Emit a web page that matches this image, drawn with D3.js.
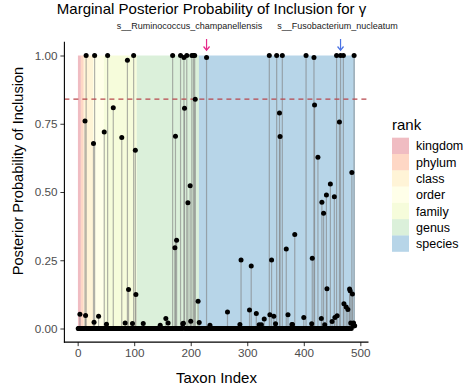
<!DOCTYPE html>
<html>
<head>
<meta charset="utf-8">
<script src="https://cdn.jsdelivr.net/npm/d3@7"></script>
<style>
  html, body { margin: 0; padding: 0; background: #ffffff; }
  svg { display: block; font-family: "Liberation Sans", Arial, Helvetica, sans-serif; }
</style>
</head>
<body>
<svg id="chart" width="466" height="392"></svg>
<script>
// Taxa with a non-negligible marginal posterior probability of inclusion
// (every other taxon index sits at 0).
const taxonCount = 490;
const taxonIndex = [
  4, 13, 14, 15, 28, 29, 30, 37, 47, 51, 53, 63, 78, 84, 88, 90, 97, 99, 102, 103,
  116, 146, 156, 160, 168, 172, 173, 175, 182, 186, 187, 188, 189, 193, 195, 199, 200, 202, 205, 207,
  208, 213, 215, 228, 234, 265, 287, 289, 304, 307, 316, 321, 325, 330, 339, 340, 343, 347, 350, 352,
  357, 358, 362, 369, 372, 379, 380, 384, 400, 404, 414, 415, 418, 419, 425, 431, 432, 435, 437, 440,
  441, 447, 450, 454, 455, 458, 459, 463, 465, 470, 471, 475, 478, 481, 482, 483, 485, 486, 487, 488,
  489, 490
];
const inclusionProb = [
  0.052, 0.76, 0.048, 1.0, 0.678, 0.023, 1.0, 0.045, 0.72, 0.016, 1.0, 0.809, 0.70, 0.02, 0.983, 0.143, 0.018, 1.0, 0.653, 0.125,
  0.018, 0.012, 0.037, 0.02, 1.0, 0.296, 0.704, 0.323, 1.0, 0.017, 0.019, 0.993, 0.807, 1.0, 0.461, 0.523, 0.027, 1.0, 1.0, 1.0,
  0.84, 0.10, 0.022, 0.993, 0.012, 0.06, 0.015, 0.251, 0.068, 0.229, 0.055, 0.014, 0.014, 0.035, 1.0, 0.05, 0.251, 0.045, 0.017, 1.0,
  0.789, 0.703, 1.0, 0.291, 0.05, 0.015, 0.015, 0.344, 0.04, 1.0, 0.017, 0.257, 0.993, 0.819, 0.627, 0.037, 0.462, 0.422, 0.014, 0.489,
  0.146, 0.529, 0.026, 0.483, 0.04, 1.0, 0.047, 0.756, 1.0, 1.0, 0.091, 0.079, 0.07, 0.145, 0.138, 0.02, 0.571, 0.126, 0.015, 0.02,
  1.0, 0.01
];

// Taxonomic rank blocks along the taxon index
const rankNames  = ["kingdom", "phylum", "class", "order", "family", "genus", "species"];
const rankStart  = [1, 6, 11, 28, 47, 105, 215];
const rankEnd    = [5, 10, 27, 46, 104, 214, 490];
const rankColors = ["#d53e4f", "#fc8d59", "#fee08b", "#ffffbf", "#e6f598", "#99d594", "#3288bd"];

// Inclusion threshold
const threshold = 0.84;

// Highlighted taxa
const highlightIndex = [228, 465];
const highlightLabel = ["s__Ruminococcus_champanellensis", "s__Fusobacterium_nucleatum"];
const highlightColor = ["#e7298a", "#4a72e4"];

const xTicks = [0, 100, 200, 300, 400, 500];
const yTicks = [0, 0.25, 0.5, 0.75, 1];

// ---- build the full per-taxon table ----
const probByIndex = new Map(taxonIndex.map((t, i) => [t, inclusionProb[i]]));
const taxa = d3.range(1, taxonCount + 1).map(t => ({ index: t, prob: probByIndex.get(t) || 0 }));
const ranks = rankNames.map((r, i) => ({ rank: r, start: rankStart[i], end: rankEnd[i], color: rankColors[i] }));

const svg = d3.select("#chart");

const panel = { left: 64.4, right: 368.5, top: 41.85, bottom: 342.15 };
const x = d3.scaleLinear().domain([-23.45, 514.45]).range([panel.left, panel.right]);
const y = d3.scaleLinear().domain([-0.05, 1.05]).range([panel.bottom, panel.top]);
const fill = d3.scaleOrdinal().domain(rankNames).range(rankColors);
const bandAlpha = 0.35;

// rank background bands
svg.append("g").selectAll("rect").data(ranks).join("rect")
  .attr("x", d => x(d.start - 0.5))
  .attr("width", d => x(d.end + 0.5) - x(d.start - 0.5))
  .attr("y", y(1))
  .attr("height", y(0) - y(1))
  .attr("fill", d => fill(d.rank))
  .attr("fill-opacity", bandAlpha);

// stems
svg.append("g").selectAll("line").data(taxa.filter(d => d.prob > 0)).join("line")
  .attr("x1", d => x(d.index)).attr("x2", d => x(d.index))
  .attr("y1", y(0)).attr("y2", d => y(d.prob))
  .attr("stroke", "#7f7f7f")
  .attr("stroke-opacity", 0.6)
  .attr("stroke-width", 1.2);

// threshold line
svg.append("line")
  .attr("x1", panel.left).attr("x2", panel.right)
  .attr("y1", y(threshold)).attr("y2", y(threshold))
  .attr("stroke", "#b8474c")
  .attr("stroke-width", 1.3)
  .attr("stroke-dasharray", "5,4");

// points
svg.append("g").selectAll("circle").data(taxa).join("circle")
  .attr("cx", d => x(d.index))
  .attr("cy", d => y(d.prob))
  .attr("r", 2.5)
  .attr("fill", "#000");

// axes
const xAxis = svg.append("g")
  .attr("transform", `translate(0,${panel.bottom})`)
  .call(d3.axisBottom(x).tickValues(xTicks).tickSize(4).tickPadding(3).tickFormat(d3.format("d")));
const yAxis = svg.append("g")
  .attr("transform", `translate(${panel.left},0)`)
  .call(d3.axisLeft(y).tickValues(yTicks).tickSize(4).tickPadding(3).tickFormat(d3.format(".2f")));
[xAxis, yAxis].forEach(g => {
  g.select(".domain").remove();
  g.selectAll(".tick line").attr("stroke", "#333").attr("stroke-width", 1);
  g.selectAll(".tick text").attr("fill", "#4d4d4d").style("font-size", "11.7px")
    .style("font-family", "'Liberation Sans', Arial, sans-serif");
});
svg.append("line").attr("x1", panel.left).attr("x2", panel.left)
  .attr("y1", panel.top).attr("y2", panel.bottom + 0.5).attr("stroke", "#000").attr("stroke-width", 1.1);
svg.append("line").attr("x1", panel.left - 0.5).attr("x2", panel.right)
  .attr("y1", panel.bottom).attr("y2", panel.bottom).attr("stroke", "#000").attr("stroke-width", 1.1);

// axis titles
svg.append("text")
  .attr("x", (panel.left + panel.right) / 2).attr("y", 382.5)
  .attr("text-anchor", "middle").style("font-size", "15px").attr("fill", "#000")
  .text("Taxon Index");
svg.append("text")
  .attr("transform", `translate(23,171) rotate(-90)`)
  .attr("text-anchor", "middle").style("font-size", "14.6px").attr("fill", "#000")
  .text("Posterior Probability of Inclusion");

// title
svg.append("text")
  .attr("x", 211.5).attr("y", 13.5)
  .attr("text-anchor", "middle").style("font-size", "15px").attr("fill", "#000")
  .text("Marginal Posterior Probability of Inclusion for γ");

// highlighted taxa: arrow + label
const labelNudge = [-17, -3];
highlightIndex.forEach((t, i) => {
  const ax = x(t);
  const g = svg.append("g");
  g.append("line").attr("x1", ax).attr("x2", ax).attr("y1", 39).attr("y2", 50)
    .attr("stroke", highlightColor[i]).attr("stroke-width", 1.2);
  g.append("path")
    .attr("d", `M${ax - 3},${46.5} L${ax},${50.2} L${ax + 3},${46.5}`)
    .attr("fill", "none").attr("stroke", highlightColor[i]).attr("stroke-width", 1.2);
  g.append("text")
    .attr("x", ax + labelNudge[i]).attr("y", 29)
    .attr("text-anchor", "middle").style("font-size", "9px").attr("fill", "#1a1a1a")
    .text(highlightLabel[i]);
});

// legend
const legend = svg.append("g").attr("transform", "translate(392,0)");
legend.append("text").attr("x", 0).attr("y", 129.5)
  .style("font-size", "15px").attr("fill", "#000").text("rank");
const keyH = 16.3, keyTop = 137.7;
const items = legend.selectAll("g.key").data(rankNames).join("g").attr("class", "key")
  .attr("transform", (d, i) => `translate(0,${keyTop + i * keyH})`);
items.append("rect").attr("width", 17).attr("height", keyH)
  .attr("fill", d => fill(d)).attr("fill-opacity", bandAlpha);
items.append("text").attr("x", 24).attr("y", keyH / 2).attr("dy", "0.36em")
  .style("font-size", "12.5px").attr("fill", "#000").text(d => d);
</script>
</body>
</html>
